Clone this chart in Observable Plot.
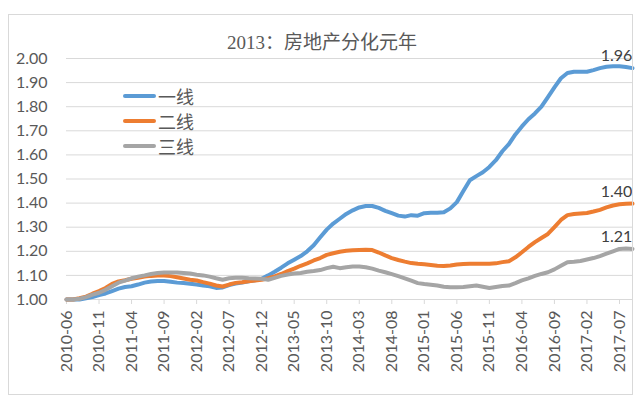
<!DOCTYPE html>
<html><head><meta charset="utf-8">
<script src="https://cdn.jsdelivr.net/npm/d3@7"></script>
<script src="https://cdn.jsdelivr.net/npm/@observablehq/plot@0.6"></script>
<style>
html,body{margin:0;padding:0;background:#fff;}
#wrap{position:relative;width:640px;height:404px;overflow:hidden;background:#fff;}
#chart{position:absolute;left:0;top:0;}
#border{position:absolute;left:8px;top:14px;width:625px;height:381px;border:1px solid #d9d9d9;box-sizing:border-box;pointer-events:none;}
#title{position:absolute;left:2px;width:640px;top:29px;text-align:center;font-family:"Liberation Serif","Noto Sans CJK SC",serif;font-size:19px;color:#595959;line-height:24px;white-space:nowrap;}
#title .cjk{font-family:"Noto Sans CJK SC";}
.leg{position:absolute;left:123px;height:22px;font-family:"Noto Sans CJK SC";font-size:18px;color:#595959;line-height:22px;display:flex;align-items:center;white-space:nowrap;}
.leg .sw{display:inline-block;width:33px;height:4px;border-radius:2px;margin-right:2px;}
</style></head>
<body><div id="wrap"><div id="chart"></div><div id="border"></div><div id="title"></div><div id="legend"></div></div>
<script>
const titleText = "2013：房地产分化元年";
const seriesNames = ["一线", "二线", "三线"];
const seriesColors = ["#5b9bd5", "#ed7d31", "#a5a5a5"];

const months = [
 "2010-06","2010-07","2010-08","2010-09","2010-10","2010-11","2010-12",
 "2011-01","2011-02","2011-03","2011-04","2011-05","2011-06","2011-07","2011-08","2011-09","2011-10","2011-11","2011-12",
 "2012-01","2012-02","2012-03","2012-04","2012-05","2012-06","2012-07","2012-08","2012-09","2012-10","2012-11","2012-12",
 "2013-01","2013-02","2013-03","2013-04","2013-05","2013-06","2013-07","2013-08","2013-09","2013-10","2013-11","2013-12",
 "2014-01","2014-02","2014-03","2014-04","2014-05","2014-06","2014-07","2014-08","2014-09","2014-10","2014-11","2014-12",
 "2015-01","2015-02","2015-03","2015-04","2015-05","2015-06","2015-07","2015-08","2015-09","2015-10","2015-11","2015-12",
 "2016-01","2016-02","2016-03","2016-04","2016-05","2016-06","2016-07","2016-08","2016-09","2016-10","2016-11","2016-12",
 "2017-01","2017-02","2017-03","2017-04","2017-05","2017-06","2017-07","2017-08","2017-09"
];

const xTicks = ["2010-06","2010-11","2011-04","2011-09","2012-02","2012-07","2012-12","2013-05","2013-10","2014-03","2014-08","2015-01","2015-06","2015-11","2016-04","2016-09","2017-02","2017-07"];
const yTicks = [1.0, 1.1, 1.2, 1.3, 1.4, 1.5, 1.6, 1.7, 1.8, 1.9, 2.0];

const tier1 = [1.000,1.000,1.000,1.005,1.010,1.018,1.025,1.035,1.045,1.052,
 1.055,1.062,1.070,1.075,1.077,1.077,1.074,1.070,1.068,1.065,
 1.062,1.058,1.055,1.048,1.050,1.060,1.066,1.070,1.076,1.080,
 1.086,1.100,1.115,1.132,1.150,1.165,1.180,1.200,1.225,1.258,
 1.290,1.315,1.335,1.355,1.370,1.382,1.388,1.388,1.380,1.368,
 1.358,1.348,1.344,1.350,1.348,1.358,1.360,1.360,1.362,1.378,
 1.404,1.450,1.495,1.512,1.528,1.550,1.578,1.615,1.645,1.685,
 1.718,1.748,1.772,1.800,1.840,1.880,1.918,1.940,1.945,1.945,
 1.945,1.952,1.960,1.966,1.968,1.968,1.965,1.960];

const tier2 = [1.000,1.000,1.005,1.012,1.024,1.035,1.048,1.065,1.075,1.080,
 1.086,1.090,1.095,1.098,1.100,1.100,1.097,1.092,1.087,1.082,
 1.079,1.072,1.066,1.058,1.054,1.062,1.069,1.072,1.076,1.079,
 1.082,1.088,1.096,1.106,1.118,1.128,1.140,1.150,1.162,1.172,
 1.185,1.192,1.198,1.202,1.204,1.205,1.206,1.205,1.195,1.183,
 1.172,1.164,1.157,1.151,1.148,1.146,1.143,1.140,1.139,1.141,
 1.145,1.147,1.148,1.148,1.148,1.148,1.150,1.155,1.159,1.175,
 1.196,1.218,1.238,1.255,1.272,1.300,1.330,1.350,1.355,1.357,
 1.359,1.365,1.372,1.382,1.390,1.395,1.397,1.398];

const tier3 = [1.000,1.000,1.003,1.010,1.020,1.028,1.040,1.055,1.070,1.078,
 1.088,1.095,1.100,1.106,1.110,1.112,1.112,1.112,1.110,1.108,
 1.103,1.100,1.095,1.088,1.082,1.088,1.090,1.090,1.088,1.087,
 1.086,1.082,1.090,1.098,1.104,1.108,1.110,1.115,1.118,1.122,
 1.130,1.136,1.130,1.134,1.137,1.137,1.134,1.128,1.120,1.113,
 1.105,1.097,1.088,1.078,1.068,1.064,1.061,1.058,1.053,1.051,
 1.051,1.052,1.055,1.058,1.053,1.048,1.052,1.056,1.058,1.068,
 1.079,1.088,1.098,1.106,1.113,1.125,1.140,1.155,1.157,1.160,
 1.166,1.172,1.180,1.190,1.200,1.210,1.212,1.210];

const seriesValues = [tier1, tier2, tier3];
const data = [];
seriesNames.forEach((s, k) => seriesValues[k].forEach((v, i) => data.push({series: s, month: months[i], value: v})));
const lastMonth = months[months.length - 1];
const lastPoints = data.filter(d => d.month === lastMonth);

const chart = Plot.plot({
  width: 640,
  height: 404,
  marginLeft: 66,
  marginRight: 8,
  marginTop: 58,
  marginBottom: 105,
  style: {fontFamily: "Lato", fontSize: "16px", color: "#595959", background: "transparent", overflow: "visible"},
  x: {type: "point", domain: months, padding: 0, label: null},
  y: {domain: [1, 2], label: null},
  color: {domain: seriesNames, range: seriesColors},
  marks: [
    Plot.ruleY(yTicks, {stroke: "#d9d9d9", strokeWidth: 1}),
    Plot.axisY(yTicks, {label: null, tickSize: 0, tickPadding: 19, tickFormat: d3.format(".2f"), fontSize: 16, fill: "#595959"}),
    Plot.axisX(xTicks, {label: null, tickRotate: -90, tickSize: 5, tickPadding: 6, stroke: "#d9d9d9", strokeOpacity: 1, fontSize: 16, fill: "#595959"}),
    Plot.line(data, {x: "month", y: "value", z: "series", stroke: "series", strokeWidth: 4, strokeLinejoin: "round", curve: "linear"}),
    Plot.text(lastPoints, {x: "month", y: "value", text: d => d.value.toFixed(2), dx: -16, dy: -12, fontSize: 16, fill: "#404040", textAnchor: "middle"})
  ]
});
document.getElementById("chart").appendChild(chart);

document.getElementById("title").innerHTML = titleText.replace(/([^\d]+)/, '<span class="cjk">$1</span>');

const legendTops = [85, 110, 135];
const legend = document.getElementById("legend");
seriesNames.forEach((s, k) => {
  const row = document.createElement("div");
  row.className = "leg";
  row.style.top = legendTops[k] + "px";
  row.innerHTML = `<span class="sw" style="background:${seriesColors[k]}"></span><span>${s}</span>`;
  legend.appendChild(row);
});
</script>
</body></html>
